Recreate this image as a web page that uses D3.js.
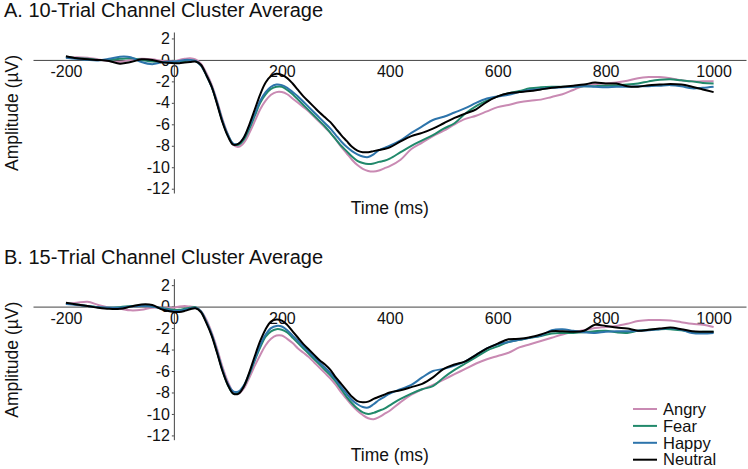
<!DOCTYPE html>
<html>
  <head>
    <title>Channel Cluster Average</title>
    <style>
      html,
      body {
        margin: 0;
        padding: 0;
        background: #fff;
        font-family: "Liberation Sans", Arial, sans-serif;
      }
      #viz {
        width: 748px;
        height: 469px;
      }
      .axis path,
      .axis line {
        stroke: #444;
        stroke-width: 1;
      }
      .axis text {
        font-family: "Liberation Sans", Arial, sans-serif;
        font-size: 16px;
        fill: #111;
      }
    </style>
  </head>
  <body>
    <div id="viz"></div>
    <script src="https://d3js.org/d3.v7.min.js"></script>
    <script>
      // time points (ms)
      const times = [
        -200, -180, -160, -140, -120, -100, -80, -60, -40, -20, 0,
        10, 20, 30, 40, 50, 60, 70, 80, 90, 100,
        110, 120, 130, 140, 150, 160, 170, 180, 190, 200,
        210, 220, 230, 240, 250, 260, 270, 280, 290, 300,
        310, 320, 330, 340, 350, 360, 370, 380, 390, 400,
        420, 440, 460, 480, 500, 520, 540, 560, 580, 600,
        620, 640, 660, 680, 700, 720, 740, 760, 780, 800,
        820, 840, 860, 880, 900, 920, 940, 960, 980, 1000
      ];

      const conditions = ["Angry", "Fear", "Happy", "Neutral"];
      const colors = ["#c98ab3", "#21896b", "#2d74ab", "#000000"];

      const xTicks = [-200, 0, 200, 400, 600, 800, 1000];
      const yTicks = [2, 0, -2, -4, -6, -8, -10, -12];

      // A. 10-trial
      const aAngry = [
        0.2, 0.25, 0.2, 0.05, -0.1, -0.2, 0.0, 0.1, 0.05, -0.1, -0.15,
        0.0, 0.1, 0.15, 0.05, -0.35, -1.2, -2.3, -3.8, -5.5, -6.9,
        -7.9, -8.1, -7.7, -6.8, -5.7, -4.6, -3.8, -3.25, -3.0, -3.0,
        -3.2, -3.6, -4.0, -4.4, -4.8, -5.3, -5.8, -6.3, -6.8, -7.4,
        -8.1, -8.7, -9.3, -9.8, -10.15, -10.35, -10.4, -10.3, -10.1, -9.9,
        -9.3, -8.3, -7.7, -7.1, -6.6, -6.0, -5.5, -5.2, -4.8, -4.4,
        -4.2, -3.95, -3.8, -3.7, -3.45, -3.2, -2.8, -2.4, -2.25, -2.2,
        -2.1, -1.95, -1.7, -1.6, -1.6, -1.7, -1.9, -2.0, -2.0, -2.0
      ];
      const aFear = [
        0.3, 0.15, 0.1, 0.0, 0.0, 0.1, 0.15, 0.0, -0.15, -0.2, -0.2,
        -0.15, -0.1, -0.05, -0.1, -0.5, -1.4, -2.5, -4.0, -5.7, -7.0,
        -7.85, -7.9, -7.4, -6.4, -5.2, -4.0, -3.2, -2.7, -2.5, -2.5,
        -2.8, -3.2, -3.7, -4.2, -4.7, -5.2, -5.7, -6.2, -6.8, -7.4,
        -8.0, -8.5, -9.0, -9.4, -9.6, -9.7, -9.65, -9.5, -9.4, -9.2,
        -8.6, -8.0, -7.5, -7.0, -6.4, -5.9, -5.0, -4.3, -3.8, -3.4,
        -3.1, -2.9, -2.65, -2.55, -2.5, -2.5, -2.5, -2.45, -2.45, -2.4,
        -2.35, -2.3, -2.2, -2.0, -1.85, -1.8, -1.9, -2.0, -2.15, -2.2
      ];
      const aHappy = [
        0.2, 0.1, 0.0, -0.05, 0.1, 0.3, 0.25, -0.2, -0.4, -0.2, -0.15,
        -0.1, 0.0, 0.0, -0.1, -0.5, -1.4, -2.5, -4.0, -5.7, -7.0,
        -7.8, -7.8, -7.2, -6.2, -5.0, -3.8, -3.0, -2.5, -2.3, -2.35,
        -2.6, -3.0, -3.4, -3.9, -4.4, -4.9, -5.4, -5.9, -6.4, -7.0,
        -7.6, -8.1, -8.5, -8.8, -9.0, -9.05, -8.8, -8.4, -8.2, -8.0,
        -7.5, -6.8, -6.2, -5.6, -5.3, -4.9, -4.5, -4.0, -3.6, -3.4,
        -3.25, -3.0, -2.8, -2.7, -2.6, -2.55, -2.5, -2.45, -2.5, -2.55,
        -2.5, -2.5, -2.45, -2.45, -2.4, -2.35, -2.45, -2.65, -2.6, -2.5
      ];
      const aNeutral = [
        0.35, 0.15, 0.05, 0.0, -0.1, -0.35, -0.2, 0.05, 0.0, -0.25, -0.3,
        -0.3, -0.25, -0.2, -0.15, -0.45, -1.4, -2.5, -4.1, -5.8, -7.1,
        -7.9, -7.8, -7.2, -6.0, -4.6, -3.2, -2.1, -1.5, -1.3, -1.4,
        -1.7, -2.2, -2.8, -3.4, -3.9, -4.4, -4.9, -5.35, -5.8, -6.4,
        -7.0, -7.55, -8.1, -8.45, -8.6, -8.6, -8.5, -8.4, -8.3, -8.15,
        -7.6, -7.1, -6.8, -6.4, -5.9, -5.4, -5.0, -4.6, -3.9, -3.4,
        -3.1, -3.0, -2.9, -2.75, -2.6, -2.5, -2.4, -2.3, -2.1, -2.2,
        -2.2, -2.45, -2.5, -2.35, -2.3, -2.25, -2.3, -2.5, -2.75, -3.0
      ];

      // B. 15-trial
      const bAngry = [
        0.25, 0.35, 0.45, 0.15, -0.1, -0.2, -0.35, -0.3, -0.1, -0.1, -0.1,
        0.0, 0.05, 0.0, -0.05, -0.4, -1.2, -2.4, -3.9, -5.6, -7.0,
        -7.95, -8.1, -7.6, -6.6, -5.5, -4.5, -3.6, -3.0, -2.7, -2.7,
        -3.0, -3.4, -3.9, -4.3, -4.7, -5.2, -5.7, -6.2, -6.7, -7.3,
        -8.0, -8.6, -9.2, -9.7, -10.1, -10.4, -10.5, -10.3, -10.0, -9.7,
        -8.9, -8.2, -7.7, -7.3, -6.8, -6.3, -5.8, -5.3, -4.9, -4.6,
        -4.3, -3.8, -3.5, -3.2, -2.9, -2.6, -2.35, -2.2, -2.0, -1.9,
        -1.8, -1.6, -1.35, -1.25, -1.25, -1.3, -1.45, -1.6, -1.7, -1.9
      ];
      const bFear = [
        0.3, 0.2, 0.05, -0.05, -0.1, -0.05, 0.05, 0.1, 0.0, -0.15, -0.3,
        -0.3, -0.2, -0.1, -0.05, -0.45, -1.4, -2.6, -4.2, -5.9, -7.3,
        -8.1, -8.0, -7.4, -6.3, -5.0, -3.8, -2.8, -2.3, -2.1, -2.15,
        -2.4, -2.9, -3.4, -3.9, -4.4, -4.9, -5.4, -5.9, -6.4, -7.0,
        -7.7, -8.4, -9.0, -9.5, -9.85, -10.0, -9.9, -9.7, -9.5, -9.2,
        -8.6, -8.1, -7.7, -7.4, -6.6, -5.9, -5.3, -4.7, -4.1, -3.7,
        -3.3, -3.1, -2.9, -2.75, -2.5, -2.45, -2.45, -2.4, -2.3, -2.25,
        -2.4, -2.45, -2.25, -2.15, -2.1, -2.1, -2.2, -2.35, -2.35, -2.35
      ];
      const bHappy = [
        0.25, 0.15, 0.05, -0.05, -0.1, -0.1, 0.0, 0.05, 0.0, -0.2, -0.4,
        -0.4, -0.3, -0.2, -0.1, -0.45, -1.4, -2.6, -4.2, -5.9, -7.2,
        -7.9, -7.9, -7.3, -6.2, -4.9, -3.6, -2.6, -2.0, -1.8, -1.85,
        -2.2, -2.7, -3.2, -3.7, -4.2, -4.7, -5.2, -5.7, -6.2, -6.8,
        -7.5, -8.1, -8.7, -9.1, -9.35, -9.4, -9.1, -8.7, -8.4, -8.1,
        -7.7, -7.3, -6.6, -6.0, -5.8, -5.5, -5.1, -4.5, -3.9, -3.5,
        -3.3, -3.1, -2.9, -2.7, -2.2, -2.1, -2.25, -2.4, -2.45, -2.35,
        -2.3, -2.3, -2.25, -2.2, -2.1, -2.0, -2.15, -2.45, -2.5, -2.45
      ];
      const bNeutral = [
        0.35, 0.2, 0.05, -0.1, -0.2, -0.2, 0.0, 0.2, 0.15, -0.3, -0.5,
        -0.5, -0.4, -0.25, -0.15, -0.5, -1.5, -2.7, -4.3, -6.0, -7.3,
        -8.1, -8.1, -7.4, -6.1, -4.6, -3.2, -2.1, -1.4, -1.2, -1.3,
        -1.7, -2.3, -2.9, -3.5, -4.0, -4.5, -5.0, -5.4, -5.9, -6.6,
        -7.2, -7.8, -8.4, -8.8, -8.9, -8.85, -8.6, -8.4, -8.2, -8.0,
        -7.8, -7.5, -7.2, -6.6, -5.8, -5.4, -5.1, -4.5, -3.9, -3.45,
        -3.05, -3.0, -2.85, -2.6, -2.3, -2.3, -2.35, -2.25, -1.7, -1.8,
        -1.95, -2.05, -2.25, -2.15, -2.05, -1.95, -2.1, -2.3, -2.35, -2.35
      ];

      const panels = [
        { title: "A. 10-Trial Channel Cluster Average", top: 0, series: [aAngry, aFear, aHappy, aNeutral] },
        { title: "B. 15-Trial Channel Cluster Average", top: 246.7, series: [bAngry, bFear, bHappy, bNeutral] }
      ];

      const svg = d3
        .select("#viz")
        .append("svg")
        .attr("width", 748)
        .attr("height", 469);

      const x = d3.scaleLinear().domain([-261, 1060]).range([33, 746]);
      const y = d3.scaleLinear().domain([-12.4, 2.6]).range([193, 32]);

      const line = d3
        .line()
        .x((d) => x(d[0]))
        .y((d) => y(d[1]))
        .curve(d3.curveCatmullRom.alpha(0.5));

      panels.forEach((p) => {
        const g = svg.append("g").attr("transform", `translate(0,${p.top})`);

        g.append("text")
          .attr("x", 4)
          .attr("y", 17)
          .style("font-size", "20px")
          .attr("fill", "#111")
          .text(p.title);

        // x axis on the zero line
        g.append("g")
          .attr("class", "axis")
          .attr("transform", `translate(0,${y(0)})`)
          .call(d3.axisBottom(x).tickValues(xTicks).tickSize(0).tickPadding(6))
          .call((a) => a.selectAll("text").text((d) => String(d)));

        g.append("g")
          .attr("class", "axis")
          .attr("transform", `translate(${x(0)},0)`)
          .call(d3.axisLeft(y).tickValues(yTicks).tickSizeInner(2).tickSizeOuter(0).tickPadding(2))
          .call((a) => a.selectAll("text").text((d) => String(d)));

        g.append("text")
          .attr("transform", `translate(18,113) rotate(-90)`)
          .attr("text-anchor", "middle")
          .style("font-size", "17.5px")
          .attr("fill", "#111")
          .text("Amplitude (\u00b5V)");

        g.append("text")
          .attr("x", x(400))
          .attr("y", 214)
          .attr("text-anchor", "middle")
          .style("font-size", "17.5px")
          .attr("fill", "#111")
          .text("Time (ms)");

        p.series.forEach((vals, i) => {
          g.append("path")
            .datum(times.map((t, k) => [t, vals[k]]))
            .attr("fill", "none")
            .attr("stroke", colors[i])
            .attr("stroke-width", 2)
            .attr("d", line);
        });
      });

      // legend
      const legend = svg.append("g").attr("transform", "translate(633,409)");
      conditions.forEach((c, i) => {
        const row = legend.append("g").attr("transform", `translate(0,${i * 16.9})`);
        row.append("line")
          .attr("x1", 0)
          .attr("x2", 24)
          .attr("stroke", colors[i])
          .attr("stroke-width", 2);
        row.append("text")
          .attr("x", 30)
          .attr("dy", "0.35em")
          .style("font-size", "16.5px")
          .attr("fill", "#111")
          .text(c);
      });
    </script>
  </body>
</html>
